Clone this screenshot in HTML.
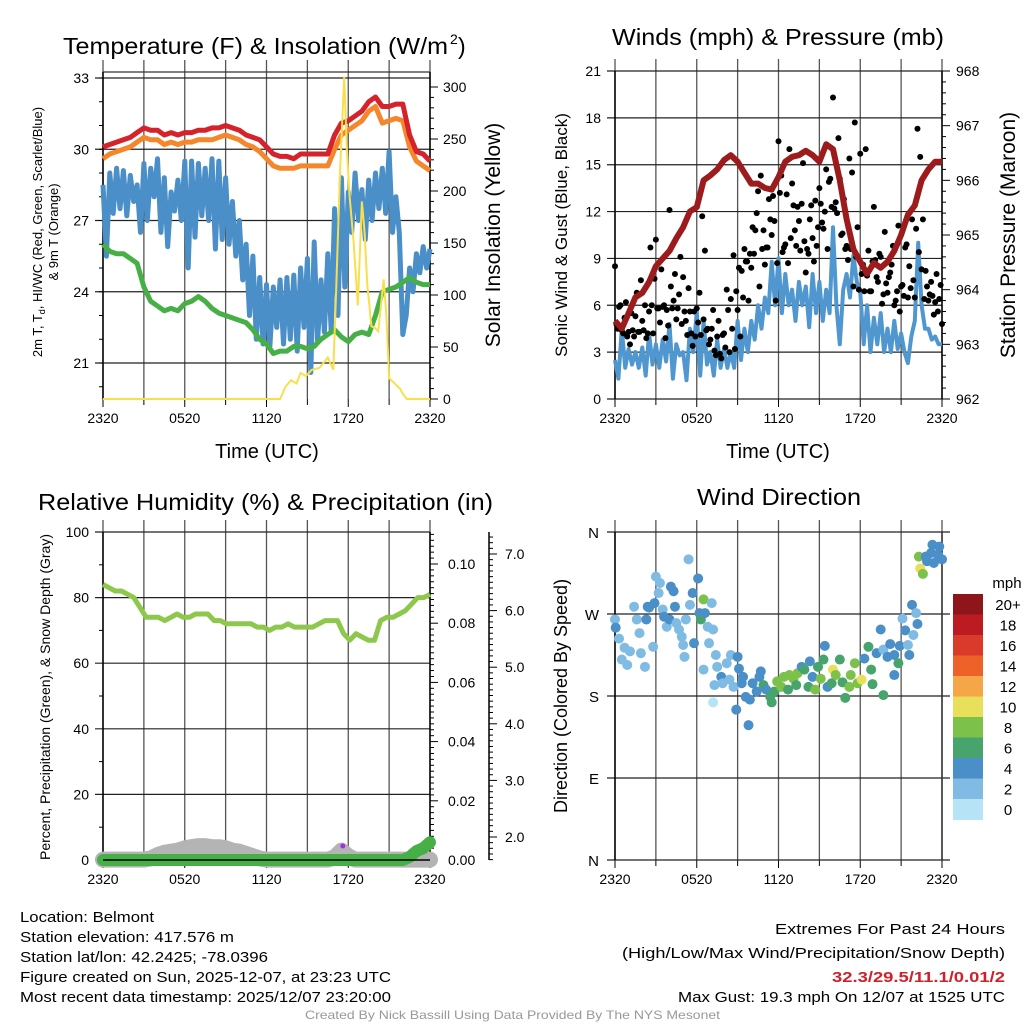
<!DOCTYPE html>
<html><head><meta charset="utf-8">
<style>
html,body{margin:0;padding:0;background:#fff;}
svg{display:block;font-family:"Liberation Sans",sans-serif;}
</style></head>
<body>
<svg id="chart" width="1024" height="1024" viewBox="0 0 1024 1024" xmlns="http://www.w3.org/2000/svg">
<rect x="0" y="0" width="1024" height="1024" fill="#fff"/>
<!-- titles -->
<text x="63" y="54" font-size="23" textLength="385" lengthAdjust="spacingAndGlyphs">Temperature (F) &amp; Insolation (W/m</text>
<text x="450" y="44" font-size="14">2</text>
<text x="458" y="54" font-size="23">)</text>
<text x="612" y="45" font-size="23" textLength="332" lengthAdjust="spacingAndGlyphs">Winds (mph) &amp; Pressure (mb)</text>
<text x="38" y="510" font-size="23" textLength="455" lengthAdjust="spacingAndGlyphs">Relative Humidity (%) &amp; Precipitation (in)</text>
<text x="697" y="505" font-size="23" textLength="164" lengthAdjust="spacingAndGlyphs">Wind Direction</text>
<g id="p1"></g>
<g id="p2"></g>
<g id="p3"></g>
<g id="p4"></g>
<!-- footer -->
<g font-size="15">
<text x="20" y="922" textLength="134" lengthAdjust="spacingAndGlyphs">Location: Belmont</text>
<text x="20" y="942" textLength="214" lengthAdjust="spacingAndGlyphs">Station elevation: 417.576 m</text>
<text x="20" y="962" textLength="248" lengthAdjust="spacingAndGlyphs">Station lat/lon: 42.2425; -78.0396</text>
<text x="20" y="982" textLength="371" lengthAdjust="spacingAndGlyphs">Figure created on Sun, 2025-12-07, at 23:23 UTC</text>
<text x="20" y="1002" textLength="371" lengthAdjust="spacingAndGlyphs">Most recent data timestamp: 2025/12/07 23:20:00</text>
</g>
<g font-size="15">
<text x="775" y="934" textLength="230" lengthAdjust="spacingAndGlyphs">Extremes For Past 24 Hours</text>
<text x="622" y="958" textLength="383" lengthAdjust="spacingAndGlyphs">(High/Low/Max Wind/Precipitation/Snow Depth)</text>
<text x="832" y="982" fill="#d0202a" font-weight="bold" textLength="173" lengthAdjust="spacingAndGlyphs">32.3/29.5/11.1/0.01/2</text>
<text x="678" y="1002" textLength="327" lengthAdjust="spacingAndGlyphs">Max Gust: 19.3 mph On 12/07 at 1525 UTC</text>
</g>
<text x="305" y="1019" font-size="12" fill="#999" textLength="415" lengthAdjust="spacingAndGlyphs">Created By Nick Bassill Using Data Provided By The NYS Mesonet</text>
</svg>
<script>
// ---------- data ----------
const timeLabels = ["2320","0520","1120","1720","2320"];
// panel 1 (half-hourly, t = 0..24 h)
const tempRed = [30.1,30.2,30.3,30.4,30.5,30.7,30.9,30.8,30.8,30.6,30.7,30.6,30.7,30.7,30.8,30.8,30.9,30.9,31.0,30.9,30.8,30.6,30.5,30.4,30.1,29.8,29.7,29.7,29.6,29.8,29.8,29.8,29.8,29.8,30.6,31.1,31.2,31.4,31.6,32.0,32.2,31.8,31.8,31.9,31.9,30.6,29.9,29.8,29.5];
const temp9m = [29.6,29.8,29.9,30.0,30.1,30.3,30.5,30.4,30.4,30.2,30.3,30.2,30.3,30.3,30.4,30.4,30.4,30.5,30.6,30.5,30.4,30.2,30.1,29.9,29.6,29.3,29.2,29.2,29.2,29.3,29.3,29.3,29.3,29.3,30.0,30.6,30.8,31.0,31.2,31.6,31.8,31.1,31.2,31.3,31.2,30.1,29.5,29.3,29.1];
const dewpoint = [26.0,25.7,25.6,25.6,25.4,25.2,24.2,23.6,23.4,23.2,23.3,23.2,23.5,23.6,23.8,23.6,23.3,23.1,23.0,22.9,22.8,22.7,22.4,22.0,21.8,21.4,21.5,21.5,21.7,21.7,21.6,21.7,22.0,22.2,22.4,22.1,21.9,22.2,22.3,22.2,23.0,24.0,24.1,24.2,24.4,24.6,24.4,24.3,24.3];
// quarter-hourly wind chill
const windChill = [28.5,25.5,29,27.3,29.2,27.5,29.1,27.2, 28.9,27.8,28.5,26.5,29.4,27.0,29.2,28.0, 29.6,26.5,28.8,25.9,28.2,27.4,28.7,27.0, 29.5,25.0,29.5,26.3,29.4,27.2,29.2,27.0, 29.6,25.8,29.5,26.2,28.8,26.0,27.8,25.5, 27.0,24.5,26.0,23.0,25.5,22.0,24.6,21.8, 24.3,21.7,24.2,22.5,24.5,21.8,24.6,22.0, 24.7,21.5,25.0,22.5,25.4,20.6,26.1,21.9, 24.5,22.3,25.6,22.3,27.5,23.0,28.8,24.2, 28.2,26.5,29.0,27.0,28.3,26.2,28.7,27.0, 29.0,27.5,29.2,27.3,29.9,26.5,28.0,26.5, 22.2,23.0,25.0,24.0,25.6,24.8,25.9,25.0,25.8];
const solarT = [0,13.0,13.4,13.8,14.2,14.5,14.9,15.3,15.9,16.5,16.9,17.1,17.4,17.7,17.9,18.1,18.4,18.7,19.0,19.2,19.4,19.7,20.0,20.2,20.6,20.8,21.0,21.4,21.8,22.0,22.3,24];
const solarV = [0,0,12,18,15,25,22,28,30,40,28,100,220,310,240,195,150,90,190,160,110,70,68,65,115,80,20,15,10,5,0,0];
// panel 2 (quarter-hourly)
const windSpeed = [2.5,1.3,4.5,2.0,3.2,2.2,3.0,2.0, 3.3,1.5,4.2,2.2,3.5,2.0,3.8,2.4, 4.8,1.3,3.5,2.8,3.0,1.2,4.5,3.0, 5.6,1.5,5.0,2.2,3.0,1.5,3.8,2.0, 3.2,2.0,3.0,2.0,5.0,2.5,4.5,3.0, 5.0,3.8,6.0,4.5,6.5,5.5,8.8,6.0, 9.0,5.5,8.0,6.0,7.0,5.0,7.5,6.0, 7.2,4.6,8.0,5.5,7.5,5.0,7.0,5.5, 11.0,6.0,3.5,7.0,8.0,6.5,9.2,7.5, 6.8,3.5,6.0,3.0,5.2,3.5,5.5,3.0, 4.5,3.0,5.0,3.2,4.2,3.0,2.3,4.0, 5.0,10.0,6.0,4.5,4.5,3.8,4.0,3.5,3.5];
// gusts every 0.2 h
const gusts = [8.5,4.5,6.0,4.2,6.2,4.3,5.5,4.0,6.8,4.3, 5.0,6.0,4.2,9.7,4.2,10.2,5.8,8.3,6.0,5.7, 12.1,5.8,8.0,5.8,9.1,7.8,5.0,7.1,4.2,5.6, 5.8,6.8,11.7,9.5,4.5,3.8,5.7,2.8,5.0,2.6, 4.2,7.0,3.0,4.5,3.2,5.7,4.0,6.5,8.8,6.3, 8.4,9.3,11.9,7.2,9.6,8.6,9.7,11.5,13.0,6.3, 16.5,14.3,9.7,13.1,16.0,13.8,10.8,12.3,9.5,15.1, 8.1,9.3,12.4,8.8,9.8,13.5,11.3,12.0,9.6,14.1, 19.3,12.6,16.7,10.5,12.8,9.8,15.4,14.5,17.7,11.0, 15.7,8.6,16.0,9.5,6.9,12.3,7.8,9.3,6.1,10.7, 6.8,8.1,9.8,6.3,11.1,7.2,6.6,9.9,8.5,11.5, 6.5,17.3,15.5,11.5,8.2,6.3,7.5,5.4,8.0,6.4,4.8];
const gusts2 = [4.8,5.9,4.4,5.2,4.0,3.5,4.4,5.3,4.3,7.6, 4.4,3.9,5.6,6.0,7.7,5.8,4.9,5.9,3.9,4.7, 7.2,6.3,5.1,6.7,4.8,5.6,4.1,5.6,3.4,4.0, 4.9,4.1,5.1,4.4,3.5,4.5,3.1,4.0,2.9,4.1, 3.3,5.7,6.4,9.2,6.9,8.4,8.2,9.6,8.8,9.3, 11.0,10.8,13.3,14.3,10.8,9.7,12.8,10.5,11.4,8.7, 13.2,9.4,9.9,8.7,10.3,12.4,9.8,11.4,12.5,10.1, 9.6,11.5,10.3,12.7,11.0,12.5,10.9,14.7,13.9,12.3, 12.2,11.9,14.1,10.6,9.6,8.9,9.6,7.2,9.1,7.0, 8.0,6.9,7.9,6.9,8.8,8.9,7.5,9.1,6.7,7.4, 7.8,8.6,6.0,6.9,5.6,7.3,9.7,6.5,7.1,7.6, 10.9,9.4,8.3,6.4,7.2,6.7,6.6,6.2,5.6,7.3];
const pressure = [963.43,963.29,963.57,963.86,963.94,964.14,964.43,964.57,964.71,964.94,965.14,965.43,965.51,966.0,966.09,966.2,966.37,966.46,966.34,966.14,965.94,965.94,965.86,965.83,966.06,966.34,966.43,966.46,966.54,966.46,966.34,966.66,966.57,966.0,965.29,964.74,964.51,964.29,964.49,964.4,964.51,964.71,965.0,965.37,965.54,966.0,966.2,966.34,966.34];
// panel 3 (half-hourly)
const humidity = [84,83,82,82,81,80,77,74,74,74,73,74,75,74,74,75,75,75,73,73,72,72,72,72,72,71,71,70,71,71,72,71,71,71,71,72,73,73,73,69,67,69,68,67,67,73,74,74,75,76,78,80,80,81];
const snowDepth = [1.6,1.6,1.6,1.6,1.6,1.6,1.6,1.62,1.68,1.72,1.74,1.76,1.8,1.82,1.84,1.84,1.82,1.82,1.8,1.76,1.74,1.7,1.66,1.62,1.6,1.6,1.6,1.6,1.6,1.6,1.6,1.6,1.6,1.6,1.64,1.76,1.66,1.6,1.6,1.6,1.6,1.6,1.6,1.6,1.6,1.6,1.6,1.6,1.6];
const precip = [0,0,0,0,0,0,0,0,0,0,0,0,0,0,0,0,0,0,0,0,0,0,0,0,0,0,0,0,0,0,0,0,0,0,0,0,0,0,0,0,0,0,0,0,0,0.001,0.003,0.004,0.006];
// panel 4
const dirT = [0,0.05,0.3,0.5,0.7,0.9,1.1,1.4,1.6,1.8,1.9,2.2,2.3,2.4,2.5,2.8,2.9,3.0,3.2,3.3,3.5,3.6,3.8,4.0,4.1,4.3,4.4,4.5,4.7,4.9,5.0,5.1,5.2,5.4,5.5,5.7,5.8,6.1,6.2,6.3,6.5,6.5,6.6,6.8,6.9,7.1,7.2,7.2,7.3,7.4,7.5,7.8,7.9,8.2,8.4,8.5,8.7,8.9,9.0,9.1,9.3,9.4,9.6,9.8,9.9,10.1,10.4,10.6,10.7,10.9,11.1,11.4,11.5,11.7,11.9,12.2,12.4,12.7,12.8,13.1,13.3,13.4,13.7,13.9,14.2,14.3,14.5,14.7,14.9,15.1,15.3,15.4,15.6,15.9,16.0,16.2,16.5,16.7,16.9,17.2,17.3,17.6,17.8,18.1,18.3,18.6,18.8,18.9,19.2,19.5,19.7,19.7,20.0,20.2,20.5,20.5,20.8,20.9,21.1,21.3,21.5,21.6,21.8,21.9,22.1,22.2,22.3,22.4,22.6,22.8,22.9,23.2,23.3,23.4,23.7,23.8,24.0];
const dirV = [264,255,243,220,233,214,229,278,264,249,227,212,264,278,277,234,282,311,293,304,275,267,256,264,300,295,278,260,253,245,236,223,264,330,280,293,238,309,271,264,286,209,271,256,238,282,253,173,192,225,212,201,194,216,198,225,190,165,223,210,194,201,179,148,176,194,185,201,207,192,187,179,173,185,196,190,201,187,203,199,192,205,212,209,190,218,201,187,212,199,220,235,190,194,209,203,220,195,178,190,203,216,194,198,221,234,209,193,227,253,231,181,223,237,225,203,216,235,265,252,236,225,280,247,271,259,333,320,314,333,328,337,346,326,335,344,330];
const dirS = [2,3,2,2,2,2,2,2,2,2,2,1,3,3,4,2,3,2,2,2,2,3,2,4,4,4,4,2,2,1,2,2,2,2,2,4,3,4,3,6,7,2,3,2,2,1,2,0,2,1,2,4,2,2,2,2,2,3,4,4,4,3,3,4,4,4,4,4,4,6,4,6,6,6,8,8,8,6,8,8,6,8,4,6,6,4,4,8,6,8,6,4,4,6,10,8,6,6,6,8,8,8,8,10,4,6,6,6,4,4,2,6,4,4,4,4,6,4,2,4,2,4,4,2,2,4,8,10,8,4,4,4,4,4,4,4,4];
const speedLabels = ["0","2","4","6","8","10","12","14","16","18","20+"];
const speedColors = ["#b6e3f6","#80bbe3","#4a8fc7","#47a46c","#7cc14a","#e8df5a","#f5a646","#ee6129","#d93a2a","#bd1b22","#8e1519"];

// ---------- helpers ----------
const NS="http://www.w3.org/2000/svg";
function mk(parent, tag, attrs){const e=document.createElementNS(NS,tag);for(const k in attrs)e.setAttribute(k,attrs[k]);parent.appendChild(e);return e;}
function txt(parent,x,y,s,size,anchor,extra){const e=mk(parent,"text",{x:x,y:y,"font-size":size,"text-anchor":anchor||"middle"});if(extra)for(const k in extra)e.setAttribute(k,extra[k]);e.textContent=s;return e;}
function linePath(xs,ys){let d="";for(let i=0;i<xs.length;i++)d+=(i?"L":"M")+xs[i].toFixed(1)+","+ys[i].toFixed(1);return d;}
function timeGrid(g,L,R,T,B,labels,labelY){
  for(let i=0;i<=8;i++){const x=L+(R-L)*i/8;
    const gl=mk(g,"line",{x1:x,y1:T-12,x2:x,y2:B,stroke:"#555","stroke-width":1.3});
    
    
    if(i%2===0){mk(g,"line",{x1:x,y1:B,x2:x,y2:B+8,stroke:"#000","stroke-width":1});
      const t=txt(g,x,labelY,labels[i/2],14);
      
      }
    else mk(g,"line",{x1:x,y1:B,x2:x,y2:B+6,stroke:"#000","stroke-width":1});
  }
}
function hline(g,x1,x2,y,c){mk(g,"line",{x1:x1,y1:y,x2:x2,y2:y,stroke:c||"#000","stroke-width":1.2});}

// ---------- panel 1 ----------
(function(){
  const g=document.getElementById("p1");
  const L=103,R=430,T=72,B=399;
  const xT=t=>L+(R-L)*t/24;
  const yF=v=>78+(33-v)*71.25/3;
  const yS=v=>399-v*(399-87)/300;
  timeGrid(g,L,R,T,B,timeLabels,423);
  hline(g,L,R,T,"#333");
  [33,30,27,24,21].forEach(v=>{hline(g,L-8,R,yF(v),"#222");
    const t=txt(g,L-14,yF(v)+5,String(v),14,"end");
    
    });
  for(let v=20;v<=33;v++)mk(g,"line",{x1:L-4,y1:yF(v),x2:L,y2:yF(v),stroke:"#000"});
  mk(g,"line",{x1:L,y1:T,x2:L,y2:B,stroke:"#000","stroke-width":1.5});
  mk(g,"line",{x1:R,y1:T,x2:R,y2:B,stroke:"#000","stroke-width":1.5});
  for(let v=0;v<=300;v+=10){mk(g,"line",{x1:R,y1:yS(v),x2:R+(v%50===0?8:4),y2:yS(v),stroke:"#000"});}
  for(let v=0;v<=300;v+=50){const t=txt(g,R+13,yS(v)+5,String(v),14,"start");
    
    }
  const half=tempRed.map((_,i)=>xT(i*0.5));
  const quarter=windChill.map((_,i)=>xT(i*0.25));
  let p=mk(g,"path",{d:linePath(quarter,windChill.map(yF)),fill:"none",stroke:"#4a8fc8","stroke-width":5,"stroke-linejoin":"round"});
  
  p=mk(g,"path",{d:linePath(half,temp9m.map(yF)),fill:"none",stroke:"#f5862c","stroke-width":5,"stroke-linejoin":"round"});
  
  p=mk(g,"path",{d:linePath(half,tempRed.map(yF)),fill:"none",stroke:"#d6222a","stroke-width":5,"stroke-linejoin":"round"});
  
  p=mk(g,"path",{d:linePath(half,dewpoint.map(yF)),fill:"none",stroke:"#46b047","stroke-width":5,"stroke-linejoin":"round"});
  
  p=mk(g,"path",{d:linePath(solarT.map(xT),solarV.map(yS)),fill:"none",stroke:"#f8e04c","stroke-width":2});
  
  let t=txt(g,267,458,"Time (UTC)",20);
  t=txt(g,0,0,"2m T, T",13,"middle",{transform:"translate(42,232) rotate(-90)"});
  t.textContent="";
  const a=mk(t,"tspan",{});a.textContent="2m T, T";
  const b=mk(t,"tspan",{"font-size":9,dy:3});b.textContent="d";
  const c=mk(t,"tspan",{dy:-3});c.textContent=", HI/WC (Red, Green, Scarlet/Blue)";
  
  t=txt(g,0,0,"& 9m T (Orange)",13,"middle",{transform:"translate(58,232) rotate(-90)"});
  
  t=txt(g,0,0,"Solar Insolation (Yellow)",21,"middle",{transform:"translate(500,235) rotate(-90)"});
  
})();

// ---------- panel 2 ----------
(function(){
  const g=document.getElementById("p2");
  const L=615,R=942,T=71,B=399;
  const xT=t=>L+(R-L)*t/24;
  const yW=v=>B-v*(B-T)/21;
  const yP=v=>B-(v-962)*(B-T)/6;
  timeGrid(g,L,R,T,B,timeLabels,423);
  [0,3,6,9,12,15,18,21].forEach(v=>{hline(g,L-8,R,yW(v),"#222");
    const t=txt(g,L-14,yW(v)+5,String(v),14,"end");
    });
  mk(g,"line",{x1:L,y1:T,x2:L,y2:B,stroke:"#000","stroke-width":1.5});
  mk(g,"line",{x1:R,y1:T,x2:R,y2:B,stroke:"#000","stroke-width":1.5});
  for(let v=962;v<=968.001;v+=0.2){mk(g,"line",{x1:R,y1:yP(v),x2:R+(Math.abs(v-Math.round(v))<0.01?8:4),y2:yP(v),stroke:"#000"});}
  for(let v=962;v<=968;v++){const t=txt(g,R+14,yP(v)+5,String(v),14,"start");
    }
  let p=mk(g,"path",{d:linePath(windSpeed.map((_,i)=>xT(i*0.25)),windSpeed.map(yW)),fill:"none",stroke:"#5097d0","stroke-width":4,"stroke-linejoin":"round"});
  
  gusts.forEach((v,i)=>{const c=mk(g,"circle",{cx:xT(i*0.2),cy:yW(v),r:3,fill:"#000"});
    });
  gusts2.forEach((v,i)=>{const c=mk(g,"circle",{cx:xT(0.1+i*0.2),cy:yW(v),r:3,fill:"#000"});
    });
  p=mk(g,"path",{d:linePath(pressure.map((_,i)=>xT(i*0.5)),pressure.map(yP)),fill:"none",stroke:"#9c1b1d","stroke-width":6,"stroke-linejoin":"round"});
  
  let t=txt(g,778,458,"Time (UTC)",20);
  t=txt(g,0,0,"Sonic Wind & Gust (Blue, Black)",17,"middle",{transform:"translate(567,235) rotate(-90)"});
  
  t=txt(g,0,0,"Station Pressure (Maroon)",21,"middle",{transform:"translate(1015,235) rotate(-90)"});
  
})();

// ---------- panel 3 ----------
(function(){
  const g=document.getElementById("p3");
  const L=103,R=430,T=532,B=860;
  const xT=t=>L+(R-L)*t/24;
  const yH=v=>B-v*(B-T)/100;
  const yPr=v=>B-v*(B-564)/0.10;
  const ySn=v=>837-(v-2)*56.6;
  timeGrid(g,L,R,T,B,timeLabels,884);
  [0,20,40,60,80,100].forEach(v=>{hline(g,L-8,R,yH(v),"#222");
    const t=txt(g,L-14,yH(v)+5,String(v),14,"end");
    });
  for(let v=10;v<100;v+=20)mk(g,"line",{x1:L-4,y1:yH(v),x2:L,y2:yH(v),stroke:"#000"});
  mk(g,"line",{x1:L,y1:T,x2:L,y2:B,stroke:"#000","stroke-width":1.5});
  mk(g,"line",{x1:R,y1:T,x2:R,y2:B,stroke:"#000","stroke-width":1.5});
  for(let k=0;k<=55;k++){const v=k*0.002;if(yPr(v)<T)break;mk(g,"line",{x1:R,y1:yPr(v),x2:R+(k%10===0?8:4),y2:yPr(v),stroke:"#000"});}
  for(let k=0;k<=5;k++){const v=k*0.02;const t=txt(g,R+18,yPr(v)+5,v.toFixed(2),14,"start");
    }
  mk(g,"line",{x1:489,y1:T,x2:489,y2:B,stroke:"#000","stroke-width":1.5});
  for(let k=16;k<=74;k++){const v=k/10;const y=ySn(v);if(y<T||y>B)continue;mk(g,"line",{x1:489,y1:y,x2:489+(k%10===0?8:4),y2:y,stroke:"#000"});}
  for(let v=2;v<=7;v++){const t=txt(g,505,ySn(v)+5,v.toFixed(1),14,"start");
    }
  let p=mk(g,"path",{d:linePath(snowDepth.map((_,i)=>xT(i*0.5)),snowDepth.map(ySn)),fill:"none",stroke:"#b4b4b4","stroke-width":16,"stroke-linejoin":"round","stroke-linecap":"round"});
  
  p=mk(g,"path",{d:linePath(precip.map((_,i)=>xT(i*0.5)),precip.map(yPr)),fill:"none",stroke:"#46b047","stroke-width":12,"stroke-linejoin":"round","stroke-linecap":"round"});
  
  mk(g,"line",{x1:L,y1:B,x2:R,y2:B,stroke:"#000","stroke-width":1.5});
  const dot=mk(g,"circle",{cx:xT(17.6),cy:846,r:2.5,fill:"#a030e0"});
  
  p=mk(g,"path",{d:linePath(humidity.map((_,i)=>xT(i*24/(humidity.length-1))),humidity.map(yH)),fill:"none",stroke:"#8dc84c","stroke-width":5,"stroke-linejoin":"round"});
  
  let t=txt(g,0,0,"Percent, Precipitation (Green), & Snow Depth (Gray)",14,"middle",{transform:"translate(50,697) rotate(-90)"});
  
})();

// ---------- panel 4 ----------
(function(){
  const g=document.getElementById("p4");
  const L=615,R=942,T=532,B=860;
  const xT=t=>L+(R-L)*t/24;
  const yD=v=>B-v*(B-T)/360;
  timeGrid(g,L,R,T,B,timeLabels,884);
  const dl=["N","E","S","W","N"];
  [0,90,180,270,360].forEach((v,i)=>{hline(g,L-8,R+8,yD(v),"#222");
    const t=txt(g,L-16,yD(v)+6,dl[i],15,"end");
    });
  mk(g,"line",{x1:L,y1:T,x2:L,y2:B,stroke:"#000","stroke-width":1.5});
  mk(g,"line",{x1:R,y1:T,x2:R,y2:B,stroke:"#333","stroke-width":1.5});
  dirT.forEach((tt,i)=>{const idx=Math.min(10,Math.max(0,Math.round(dirS[i]/2)));
    const c=mk(g,"circle",{cx:xT(tt),cy:yD(dirV[i]),r:5,fill:speedColors[idx]});
    });
  let t=txt(g,0,0,"Direction (Colored By Speed)",18,"middle",{transform:"translate(567,696) rotate(-90)"});
  
  // colorbar
  const cb=mk(g,"g",{});
  
  const top=594,h=20.5;
  t=txt(cb,1007,588,"mph",15);
  for(let k=0;k<11;k++){const idx=10-k;
    const r=mk(cb,"rect",{x:953,y:top+k*h,width:30,height:h+0.5,fill:speedColors[idx]});
    
    const l=txt(cb,1008,top+k*h+16,speedLabels[idx],15);
    }
})();
</script>
</body></html>
